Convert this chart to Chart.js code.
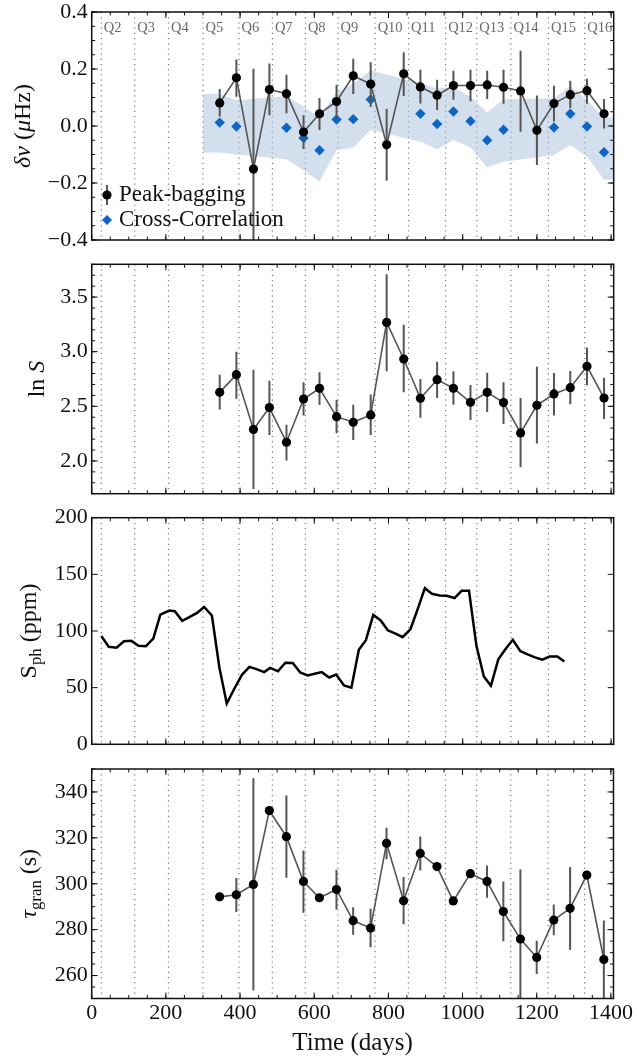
<!DOCTYPE html>
<html>
<head>
<meta charset="utf-8">
<script src="https://cdn.jsdelivr.net/npm/chart.js@4.4.1/dist/chart.umd.min.js"></script>
<style>
  body { margin: 0; background: #fff; }
  #fig { position: relative; width: 637px; height: 1062px; background: #fff; }
  #fig canvas { position: absolute; left: 0; }
</style>
</head>
<body>
<div id="fig">
  <canvas id="c1" width="637" height="252" style="top:0px"></canvas>
  <canvas id="c2" width="637" height="253" style="top:252px"></canvas>
  <canvas id="c3" width="637" height="252" style="top:505px"></canvas>
  <canvas id="c4" width="637" height="305" style="top:757px"></canvas>
</div>
<script>
// quarter boundaries (days) and their labels
const quarterDays = [26, 116, 207, 300, 397, 487, 576, 664, 764, 854, 954, 1038, 1130, 1231, 1329];
const quarterLabels = ['Q2', 'Q3', 'Q4', 'Q5', 'Q6', 'Q7', 'Q8', 'Q9', 'Q10', 'Q11', 'Q12', 'Q13', 'Q14', 'Q15', 'Q16'];

// peak-bagging epochs
const days = [345, 390, 436, 479, 525, 571, 614, 660, 705, 752, 795, 841, 886, 931, 975, 1021, 1066, 1110, 1156, 1200, 1246, 1290, 1335, 1381];

const dnu     = [0.081, 0.169, -0.151, 0.128, 0.113, -0.021, 0.043, 0.086, 0.176, 0.147, -0.066, 0.183, 0.137, 0.108, 0.142, 0.142, 0.144, 0.136, 0.123, -0.015, 0.079, 0.110, 0.124, 0.043];
const dnuHigh = [0.130, 0.233, 0.201, 0.219, 0.180, 0.038, 0.098, 0.145, 0.236, 0.224, 0.060, 0.259, 0.197, 0.162, 0.194, 0.197, 0.194, 0.197, 0.264, 0.107, 0.141, 0.159, 0.166, 0.095];
const dnuLow  = [0.033, 0.103, -0.55, 0.038, 0.045, -0.081, -0.014, 0.027, 0.112, 0.067, -0.192, 0.105, 0.079, 0.056, 0.092, 0.087, 0.095, 0.078, -0.020, -0.137, 0.016, 0.063, 0.078, -0.009];

// cross-correlation
const ccDays = [345, 390, 525, 571, 614, 660, 705, 752, 886, 931, 975, 1021, 1066, 1110, 1246, 1290, 1335, 1381];
const ccDnu  = [0.012, -0.002, -0.006, -0.042, -0.085, 0.023, 0.024, 0.093, 0.043, 0.007, 0.051, 0.017, -0.050, -0.013, -0.005, 0.043, -0.002, -0.092];
const bandDays = [300, 345, 390, 525, 571, 614, 660, 705, 752, 886, 931, 975, 1021, 1066, 1110, 1246, 1290, 1335, 1381, 1410];
const bandHigh = [0.112, 0.112, 0.090, 0.105, 0.068, 0.030, 0.120, 0.147, 0.196, 0.150, 0.132, 0.138, 0.103, 0.047, 0.094, 0.097, 0.140, 0.091, 0.030, 0.030];
const bandLow  = [-0.093, -0.093, -0.100, -0.117, -0.155, -0.195, -0.084, -0.076, -0.014, -0.055, -0.082, -0.049, -0.075, -0.145, -0.125, -0.102, -0.067, -0.108, -0.189, -0.189];

const lnS     = [2.628, 2.790, 2.287, 2.488, 2.171, 2.567, 2.665, 2.405, 2.354, 2.421, 3.268, 2.933, 2.573, 2.744, 2.665, 2.537, 2.628, 2.534, 2.256, 2.509, 2.613, 2.671, 2.866, 2.576];
const lnSHigh = [2.79, 3.00, 2.835, 2.735, 2.332, 2.72, 2.811, 2.561, 2.515, 2.607, 3.71, 3.247, 2.75, 2.909, 2.82, 2.695, 2.808, 2.72, 2.576, 2.863, 2.805, 2.823, 3.037, 2.762];
const lnSLow  = [2.47, 2.57, 1.744, 2.238, 2.003, 2.415, 2.515, 2.253, 2.192, 2.238, 2.82, 2.628, 2.396, 2.576, 2.515, 2.375, 2.448, 2.338, 1.942, 2.159, 2.415, 2.518, 2.692, 2.384];

// photometric magnitude
const sphDays = [26, 46, 67, 87, 107, 126, 146, 166, 185, 209, 224, 244, 263, 284, 303, 324, 344, 364, 384, 405, 425, 444, 465, 481, 502, 522, 542, 562, 582, 601, 620, 640, 659, 680, 700, 720, 739, 759, 779, 798, 819, 838, 859, 878, 898, 917, 938, 957, 978, 997, 1017, 1037, 1057, 1076, 1096, 1116, 1135, 1155, 1175, 1195, 1215, 1234, 1255, 1274];
const sph = [95.6, 86, 85.2, 91, 91.3, 86.9, 86.6, 93.3, 114.5, 118, 117.4, 109, 112.2, 116, 121.2, 113.7, 68, 36, 48.8, 61.3, 68.3, 66.3, 63.7, 67.4, 64.5, 72, 71.8, 63.4, 60.8, 62.2, 63.7, 59, 61.6, 52, 50, 83.4, 91.9, 114.2, 109.3, 100.6, 97.7, 94.5, 101.5, 118.6, 137.8, 132.8, 131.4, 131.1, 129.1, 135.5, 135.5, 86.9, 59.9, 51.7, 75, 84.3, 92.2, 82.3, 79.4, 76.7, 74.7, 77.6, 77.6, 73];

const tau     = [294.3, 295.2, 299.7, 331.9, 320.5, 301.0, 293.9, 297.5, 283.9, 280.7, 317.6, 292.6, 313.2, 307.5, 292.5, 304.4, 301.0, 287.9, 275.9, 267.9, 284.2, 289.3, 303.8, 267.0];
const tauHigh = [null, 302.5, 346, null, 338.5, 314.5, null, 306.1, 289.8, 289.1, 324.4, 302.9, 320.6, null, null, null, 308, 301, 306.2, 275.2, 291, 307.3, null, 284];
const tauLow  = [null, 287.7, 253.5, null, 302.6, 287.4, null, 288.8, 277.8, 272.3, 310.7, 282.3, 305.8, null, null, null, 293.9, 274.9, 240, 260.7, 277.6, 271.1, null, 240];

// tick labels
const timeTicks = [0, 200, 400, 600, 800, 1000, 1200, 1400];
const dnuTicks = [-0.4, -0.2, 0.0, 0.2, 0.4];
const lnSTicks = [2.0, 2.5, 3.0, 3.5];
const sphTicks = [0, 50, 100, 150, 200];
const tauTicks = [260, 280, 300, 320, 340];

const SERIF = '"Liberation Serif", "Times New Roman", serif';
const GREY = '#555';

function points(xs, ys) {
    return xs.map((x, i) => ({ x: x, y: ys[i] }));
}

function range(min, max, step) {
    const out = [];
    for (let v = min; v <= max + 1e-9; v += step) out.push(Math.round(v * 1e6) / 1e6);
    return out;
}

function drawSegments(ctx, segs, cx, cy, size, rotate) {
    const parts = segs.map(s => {
        const fs = s.sub ? size * 0.7 : size;
        const font = (s.it ? 'italic ' : '') + fs + 'px ' + SERIF;
        ctx.font = font;
        return { t: s.t, font: font, w: ctx.measureText(s.t).width, dy: s.sub ? size * 0.22 : 0 };
    });
    const total = parts.reduce((a, p) => a + p.w, 0);
    ctx.save();
    ctx.translate(cx, cy);
    if (rotate) ctx.rotate(-Math.PI / 2);
    ctx.fillStyle = '#111';
    ctx.textBaseline = 'alphabetic';
    let xx = -total / 2;
    parts.forEach(p => {
        ctx.font = p.font;
        ctx.fillText(p.t, xx, size * 0.33 + p.dy);
        xx += p.w;
    });
    ctx.restore();
}

const decor = {
    id: 'decor',
    beforeDatasetsDraw(chart) {
        const { ctx, chartArea: a, scales: { x } } = chart;
        ctx.save();
        ctx.strokeStyle = '#777';
        ctx.lineWidth = 1.2;
        ctx.setLineDash([1.2, 4]);
        quarterDays.forEach(d => {
            const px = x.getPixelForValue(d);
            ctx.beginPath();
            ctx.moveTo(px, a.top);
            ctx.lineTo(px, a.bottom);
            ctx.stroke();
        });
        ctx.restore();
    },
    beforeDatasetDraw(chart, args, opts) {
        const err = opts.errors;
        if (!err || args.index !== 0) return;
        const { ctx, chartArea: a, scales: { x, y } } = chart;
        Chart.helpers.clipArea(ctx, a);
        ctx.save();
        ctx.strokeStyle = GREY;
        ctx.lineWidth = 2;
        err.x.forEach((d, i) => {
            if (err.lo[i] == null) return;
            const px = x.getPixelForValue(d);
            ctx.beginPath();
            ctx.moveTo(px, y.getPixelForValue(err.lo[i]));
            ctx.lineTo(px, y.getPixelForValue(err.hi[i]));
            ctx.stroke();
        });
        ctx.restore();
        Chart.helpers.unclipArea(ctx);
    },
    afterDraw(chart, args, opts) {
        const { ctx, chartArea: a, scales: { x, y } } = chart;
        ctx.save();
        // inward ticks on all sides
        ctx.strokeStyle = '#111';
        ctx.lineWidth = 1;
        const xTick = (vals, len) => vals.forEach(v => {
            const px = x.getPixelForValue(v);
            if (px < a.left - 0.5 || px > a.right + 0.5) return;
            ctx.beginPath();
            ctx.moveTo(px, a.bottom); ctx.lineTo(px, a.bottom - len);
            ctx.moveTo(px, a.top); ctx.lineTo(px, a.top + len);
            ctx.stroke();
        });
        const yTick = (vals, len) => vals.forEach(v => {
            const py = y.getPixelForValue(v);
            ctx.beginPath();
            ctx.moveTo(a.left, py); ctx.lineTo(a.left + len, py);
            ctx.moveTo(a.right, py); ctx.lineTo(a.right - len, py);
            ctx.stroke();
        });
        xTick(range(0, 1400, 50), 3.5);
        xTick(timeTicks, 6);
        if (opts.yMinor) yTick(range(y.min, y.max, opts.yMinor), 3.5);
        yTick(opts.yTicks, 6);
        // frame
        ctx.lineWidth = 1.5;
        ctx.strokeRect(a.left, a.top, a.right - a.left, a.bottom - a.top);

        // quarter labels
        if (opts.quarters) {
            ctx.fillStyle = '#6a6a6a';
            ctx.font = '14.5px ' + SERIF;
            ctx.textBaseline = 'middle';
            ctx.textAlign = 'left';
            quarterDays.forEach((d, i) => {
                ctx.fillText(quarterLabels[i], x.getPixelForValue(d) + 2.5, a.top + 16);
            });
        }

        // legend
        if (opts.legend) {
            const lx = 107, ly1 = a.top + 183, ly2 = a.top + 208;
            ctx.strokeStyle = GREY;
            ctx.lineWidth = 2;
            ctx.beginPath(); ctx.moveTo(lx, ly1 - 10); ctx.lineTo(lx, ly1 + 10); ctx.stroke();
            ctx.fillStyle = '#000';
            ctx.beginPath(); ctx.arc(lx, ly1, 4.6, 0, Math.PI * 2); ctx.fill();
            ctx.fillStyle = '#0b66c6';
            ctx.beginPath();
            ctx.moveTo(lx, ly2 - 5); ctx.lineTo(lx + 5, ly2); ctx.lineTo(lx, ly2 + 5); ctx.lineTo(lx - 5, ly2);
            ctx.closePath(); ctx.fill();
            ctx.fillStyle = '#111';
            ctx.font = '23px ' + SERIF;
            ctx.textBaseline = 'middle';
            ctx.textAlign = 'left';
            ctx.fillText('Peak-bagging', 119, ly1);
            ctx.fillText('Cross-Correlation', 119, ly2);
        }
        ctx.restore();

        // axis titles
        drawSegments(ctx, opts.yTitle, opts.yTitleX, (a.top + a.bottom) / 2, 24, true);
        if (opts.xTitle) {
            drawSegments(ctx, [{ t: 'Time (days)' }], (a.left + a.right) / 2, a.bottom + 43, 25, false);
        }
    }
};

function makePanel(id, cfg) {
    return new Chart(document.getElementById(id), {
        type: 'line',
        data: { datasets: cfg.datasets },
        options: {
            responsive: false,
            animation: false,
            devicePixelRatio: 1,
            layout: { padding: { top: cfg.padTop, right: 23.3, left: 0, bottom: 0 } },
            plugins: {
                legend: { display: false },
                tooltip: { enabled: false },
                decor: cfg.decor
            },
            scales: {
                x: {
                    type: 'linear',
                    min: 0,
                    max: 1407,
                    grid: { display: false, drawTicks: false },
                    border: { display: false },
                    ticks: {
                        display: !!cfg.xLabels,
                        color: '#111',
                        padding: 4,
                        maxRotation: 0,
                        autoSkip: false,
                        callback: v => String(v),
                        font: { family: SERIF, size: 22, lineHeight: 1 }
                    },
                    afterBuildTicks: s => { s.ticks = timeTicks.map(v => ({ value: v })); },
                    afterFit: s => { s.height = cfg.xHeight; }
                },
                y: {
                    min: cfg.yMin,
                    max: cfg.yMax,
                    grid: { display: false, drawTicks: false },
                    border: { display: false },
                    ticks: {
                        color: '#111',
                        padding: 4,
                        callback: cfg.fmt,
                        font: { family: SERIF, size: 22, lineHeight: 0.5 }
                    },
                    afterBuildTicks: s => { s.ticks = cfg.decor.yTicks.map(v => ({ value: v })); },
                    afterFit: s => { s.width = 91.7; }
                }
            }
        },
        plugins: [decor]
    });
}

function pbLine(xs, ys) {
    return {
        data: points(xs, ys),
        borderColor: GREY,
        borderWidth: 1.6,
        tension: 0,
        pointRadius: 4.6,
        pointBackgroundColor: '#000',
        pointBorderWidth: 0,
        order: 1
    };
}

makePanel('c1', {
    padTop: 12, xHeight: 12, yMin: -0.4, yMax: 0.4,
    fmt: v => (v < -1e-9 ? '\u2212' : '') + Math.abs(v).toFixed(1),
    datasets: [
        pbLine(days, dnu),
        {
            data: points(ccDays, ccDnu),
            showLine: false,
            pointStyle: 'rectRot',
            pointRadius: 5.2,
            pointBackgroundColor: '#0b66c6',
            pointBorderWidth: 0,
            order: 2
        },
        {
            data: points(bandDays, bandHigh),
            fill: '+1',
            backgroundColor: 'rgba(176,196,222,0.55)',
            borderColor: 'rgba(0,0,0,0)',
            borderWidth: 0,
            pointRadius: 0,
            tension: 0,
            order: 3
        },
        {
            data: points(bandDays, bandLow),
            fill: false,
            borderColor: 'rgba(0,0,0,0)',
            borderWidth: 0,
            pointRadius: 0,
            tension: 0,
            order: 4
        }
    ],
    decor: {
        errors: { x: days, lo: dnuLow, hi: dnuHigh },
        yTicks: dnuTicks, yMinor: 0.05, quarters: true, legend: true,
        yTitle: [{ t: '\u03b4\u03bd', it: true }, { t: ' (' }, { t: '\u03bc', it: true }, { t: 'Hz)' }],
        yTitleX: 22
    }
});

makePanel('c2', {
    padTop: 12.3, xHeight: 11.3, yMin: 1.7, yMax: 3.8,
    fmt: v => v.toFixed(1),
    datasets: [pbLine(days, lnS)],
    decor: {
        errors: { x: days, lo: lnSLow, hi: lnSHigh },
        yTicks: lnSTicks, yMinor: 0.1,
        yTitle: [{ t: 'ln ' }, { t: 'S', it: true }],
        yTitleX: 36
    }
});

makePanel('c3', {
    padTop: 12.7, xHeight: 12.7, yMin: 0, yMax: 200,
    fmt: v => String(v),
    datasets: [{
        data: points(sphDays, sph),
        borderColor: '#000',
        borderWidth: 2.5,
        tension: 0,
        pointRadius: 0
    }],
    decor: {
        yTicks: sphTicks, yMinor: 0,
        yTitle: [{ t: 'S' }, { t: 'ph', sub: true }, { t: ' (ppm)' }],
        yTitleX: 28
    }
});

makePanel('c4', {
    padTop: 12, xHeight: 63.5, yMin: 250, yMax: 350, xLabels: true,
    fmt: v => String(v),
    datasets: [pbLine(days, tau)],
    decor: {
        errors: { x: days, lo: tauLow, hi: tauHigh },
        yTicks: tauTicks, yMinor: 5, xTitle: true,
        yTitle: [{ t: '\u03c4', it: true }, { t: 'gran', sub: true }, { t: ' (s)' }],
        yTitleX: 28
    }
});
</script>
</body>
</html>
